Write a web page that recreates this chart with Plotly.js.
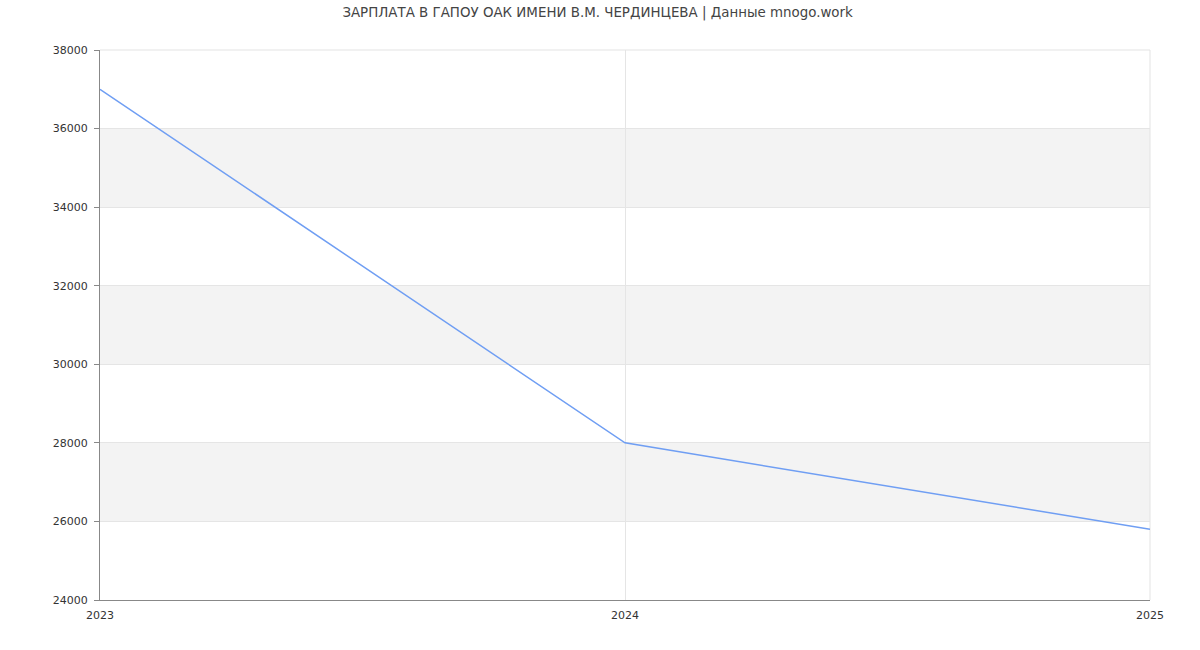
<!DOCTYPE html>
<html>
<head>
<meta charset="utf-8">
<script src="https://cdn.plot.ly/plotly-3.0.1.min.js"></script>
<style>html,body{margin:0;padding:0;background:#fff;}#chart{width:1200px;height:650px;}</style>
</head>
<body>
<div id="chart"></div>
<script>
const years = [2023, 2024, 2025];
const salaries = [37000, 28000, 25800];
const yTicks = [24000, 26000, 28000, 30000, 32000, 34000, 36000, 38000];
const xTicks = [2023, 2024, 2025];
const titleText = "ЗАРПЛАТА В ГАПОУ ОАК ИМЕНИ В.М. ЧЕРДИНЦЕВА | Данные mnogo.work";

const shapes = [];
for (let i = 1; i < yTicks.length - 1; i += 2) {
  shapes.push({
    type: 'rect', xref: 'paper', yref: 'y', x0: 0, x1: 1,
    y0: yTicks[i], y1: yTicks[i + 1],
    fillcolor: '#f3f3f3', line: {width: 0}, layer: 'below'
  });
}
shapes.push({type: 'line', xref: 'paper', yref: 'paper', x0: 1, x1: 1, y0: 0, y1: 1, line: {color: '#e3e3e3', width: 1}, layer: 'below'});
shapes.push({type: 'line', xref: 'paper', yref: 'paper', x0: 0, x1: 1, y0: 1, y1: 1, line: {color: '#e3e3e3', width: 1}, layer: 'below'});

const font = "DejaVu Sans, sans-serif";
Plotly.newPlot('chart', [{
  x: years, y: salaries, type: 'scatter', mode: 'lines',
  line: {color: '#6f9ef3', width: 1.5}, hoverinfo: 'x+y'
}], {
  width: 1200, height: 650,
  margin: {l: 100, r: 50, t: 50, b: 50},
  paper_bgcolor: '#fff', plot_bgcolor: '#fff',
  title: {text: titleText, font: {family: font, size: 13.4, color: '#444'}, x: 0.498, xanchor: 'center', y: 0.988, yanchor: 'top'},
  showlegend: false,
  shapes: shapes,
  xaxis: {
    range: [2023, 2025], tickvals: xTicks, ticktext: xTicks.map(String),
    showgrid: true, gridcolor: '#e5e5e5', zeroline: false,
    showline: true, linecolor: '#888', linewidth: 1, mirror: false,
    ticks: '', ticklen: 0, ticklabelstandoff: 5,
    tickfont: {family: font, size: 11, color: '#333'}
  },
  yaxis: {
    range: [24000, 38000], tickvals: yTicks, ticktext: yTicks.map(String),
    showgrid: true, gridcolor: '#e5e5e5', zeroline: false,
    showline: true, linecolor: '#888', linewidth: 1,
    ticks: 'outside', ticklen: 5, tickcolor: '#888', ticklabelstandoff: 4,
    tickfont: {family: font, size: 11, color: '#333'}
  }
}, {displayModeBar: false, staticPlot: true});
</script>
</body>
</html>
